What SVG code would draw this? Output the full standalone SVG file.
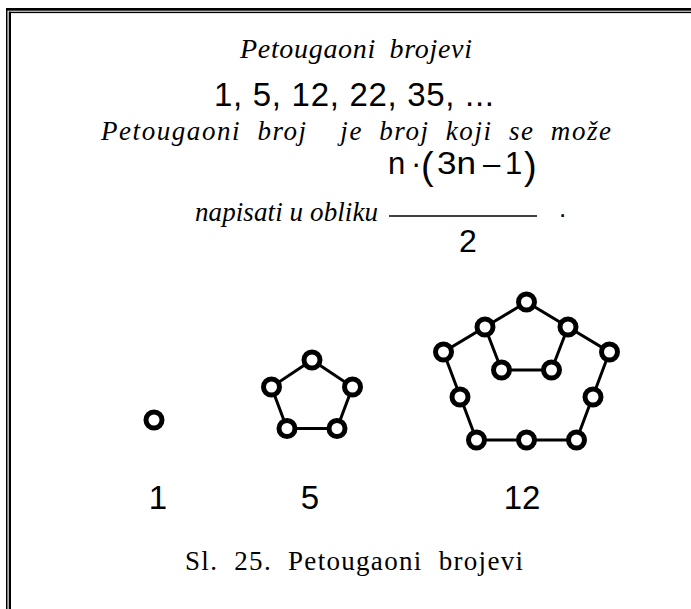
<svg xmlns="http://www.w3.org/2000/svg" width="691" height="609" viewBox="0 0 691 609">
<style>
.ser{font-family:"Liberation Serif","Times New Roman",serif;fill:#000}
.it{font-style:italic}
.sans{font-family:"Liberation Sans",Arial,sans-serif;fill:#000}
.dot{fill:#fff;stroke:#000;stroke-width:5}
.edge{stroke:#000;stroke-width:3;fill:none}
</style>
<rect width="691" height="609" fill="#fff"/>
<g id="border" fill="#000">
<rect x="6" y="8" width="685" height="2.7"/>
<rect x="9" y="11.7" width="682" height="1.4"/>
<rect x="6" y="8" width="1.5" height="601"/>
<rect x="8.7" y="11.7" width="2.3" height="597.3"/>
</g>
<g id="texts">
<text class="ser it" x="240" y="58" font-size="28" word-spacing="6" textLength="232" lengthAdjust="spacing">Petougaoni brojevi</text>
<text class="sans" x="214" y="106" font-size="33" textLength="280" lengthAdjust="spacing">1, 5, 12, 22, 35, ...</text>
<text class="ser it" x="101" y="140" font-size="27" word-spacing="8" textLength="510" lengthAdjust="spacing" xml:space="preserve">Petougaoni broj  je broj koji se može</text>
<text class="ser it" x="195" y="221" font-size="27" textLength="183" lengthAdjust="spacing">napisati u obliku</text>
</g>
<g id="formula">
<text class="sans" x="388" y="174" font-size="31">n</text>
<text class="sans" x="411" y="174" font-size="31">·</text>
<text class="sans" x="421" y="179" font-size="38">(</text>
<text class="sans" x="437" y="174" font-size="31" textLength="39" lengthAdjust="spacingAndGlyphs">3n</text>
<text class="sans" x="483" y="174" font-size="31">–</text>
<text class="sans" x="505" y="174" font-size="31">1</text>
<text class="sans" x="524" y="179" font-size="38">)</text>
<line x1="389" y1="216" x2="537" y2="216" stroke="#000" stroke-width="1.5"/>
<text class="sans" x="468" y="252" font-size="32" text-anchor="middle">2</text>
<text class="sans" x="559" y="217" font-size="26">.</text>
</g>
<g id="connectors">
<polygon class="edge" points="312,360 352.5,387 337,428.5 287,428.5 271.5,387"/>
<polygon class="edge" points="526.5,302 609.5,352 576.5,440 476.5,440 443.5,352"/>
<polyline class="edge" points="485,327 501.5,370 551.5,370 568,327"/>
</g>
<g id="node-1">
<circle class="dot" cx="154" cy="420" r="8"/>
</g>
<g id="node-5">
<circle class="dot" cx="312" cy="360" r="8"/>
<circle class="dot" cx="352.5" cy="387" r="8"/>
<circle class="dot" cx="337" cy="428.5" r="8"/>
<circle class="dot" cx="287" cy="428.5" r="8"/>
<circle class="dot" cx="271.5" cy="387" r="8"/>
</g>
<g id="node-12">
<circle class="dot" cx="526.5" cy="302" r="8"/>
<circle class="dot" cx="485" cy="327" r="8"/>
<circle class="dot" cx="568" cy="327" r="8"/>
<circle class="dot" cx="443.5" cy="352" r="8"/>
<circle class="dot" cx="609.5" cy="352" r="8"/>
<circle class="dot" cx="501.5" cy="370" r="8"/>
<circle class="dot" cx="551.5" cy="370" r="8"/>
<circle class="dot" cx="460" cy="397" r="8"/>
<circle class="dot" cx="593" cy="397" r="8"/>
<circle class="dot" cx="476.5" cy="440" r="8"/>
<circle class="dot" cx="526.5" cy="440" r="8"/>
<circle class="dot" cx="576.5" cy="440" r="8"/>
</g>
<g id="labels">
<text class="sans" x="158" y="509" font-size="33" text-anchor="middle">1</text>
<text class="sans" x="310" y="509" font-size="33" text-anchor="middle">5</text>
<text class="sans" x="522" y="509" font-size="33" text-anchor="middle">12</text>
<text class="ser" x="185" y="570" font-size="27" word-spacing="8" textLength="338" lengthAdjust="spacing">Sl. 25. Petougaoni brojevi</text>
</g>
</svg>
